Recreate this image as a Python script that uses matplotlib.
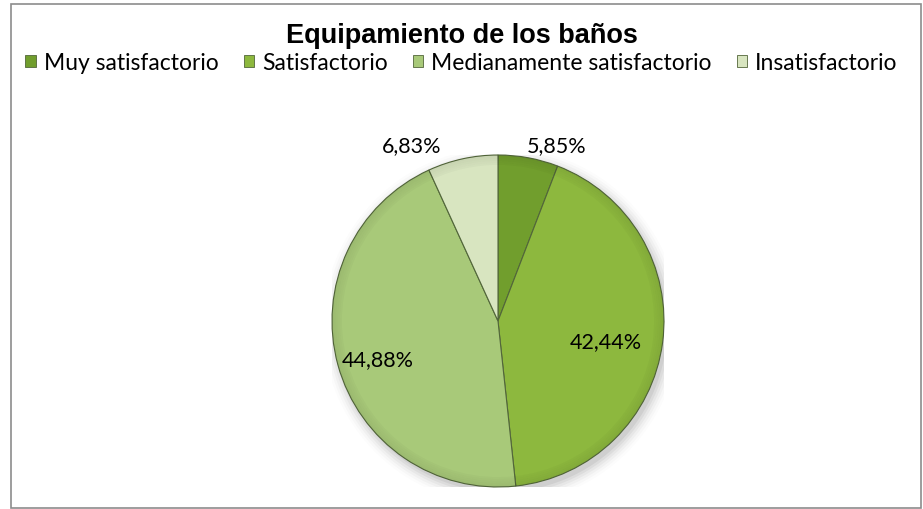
import matplotlib.pyplot as plt
import matplotlib.patches as mpatches
import numpy as np

# ---------------------------------------------------------------
# Data
# ---------------------------------------------------------------
categories = ["Muy satisfactorio", "Satisfactorio",
              "Medianamente satisfactorio", "Insatisfactorio"]
values = [5.85, 42.44, 44.88, 6.83]
labels = ["5,85%", "42,44%", "44,88%", "6,83%"]

colors = ["#719e2d", "#8db83e", "#a8c979", "#d8e5c0"]
# label placement per slice: (radius, angle nudge in degrees)
label_pos = [(1.12, -8), (0.66, -3), (0.76, 2), (1.18, 14)]

plt.rcParams["font.family"] = ["Lato", "DejaVu Sans"]

W, H = 923, 510
fig = plt.figure(figsize=(W / 100, H / 100), dpi=100)

# chart frame
frame = mpatches.Rectangle((11 / W, 1 / H), (W - 13) / W, (H - 6) / H,
                           transform=fig.transFigure, fill=False,
                           edgecolor="#8c8c8c", linewidth=1.2)
fig.patches.append(frame)

# pie axes: center (498, 322) px, radius 166 px
cx, cy, r = 498, 322, 166
ax = fig.add_axes([(cx - r) / W, (H - cy - r) / H, 2 * r / W, 2 * r / H])

# soft shadow under the pie
for k, a in enumerate(np.linspace(0.05, 0.01, 6)):
    ax.add_patch(mpatches.Ellipse((0.02, -0.03), 2.0 + 0.03 * k, 2.0 + 0.03 * k,
                                  color="black", alpha=a, lw=0, zorder=0))

wedges, _ = ax.pie(values, colors=colors, startangle=90, counterclock=False,
                   radius=1.0,
                   wedgeprops=dict(edgecolor="#52663a", linewidth=0.8))

# rim shading for a slight bevel look
for w in wedges:
    for k in range(5):
        ax.add_patch(mpatches.Wedge((0, 0), 1.0 - 0.012 * k, w.theta1, w.theta2,
                                    width=0.012, color="black",
                                    alpha=0.07 - 0.012 * k, lw=0, zorder=3))

for w, lab, (rad, nudge) in zip(wedges, labels, label_pos):
    mid = np.deg2rad((w.theta1 + w.theta2) / 2 + nudge)
    ax.text(rad * np.cos(mid), rad * np.sin(mid), lab, ha="center",
            va="center", fontsize=15.5, color="black", zorder=5)

ax.set_xlim(-1, 1)
ax.set_ylim(-1, 1)
ax.axis("off")

# title
fig.text(0.5, 1 - 36 / H, "Equipamiento de los baños", ha="center",
         va="center", fontsize=19.5, fontweight="bold",
         family=["Liberation Sans", "DejaVu Sans"])

# legend
handles = [mpatches.Patch(facecolor=c, edgecolor="#52663a", linewidth=0.6,
                          label=n) for c, n in zip(colors, categories)]
fig.legend(handles=handles, loc="center", bbox_to_anchor=(0.5, 1 - 64 / H),
           ncol=4, frameon=False, fontsize=16.5, handlelength=0.45,
           handleheight=0.45, handletextpad=0.35, columnspacing=1.1,
           borderaxespad=0, borderpad=0)

fig.savefig("out.png", dpi=100)
plt.close(fig)
